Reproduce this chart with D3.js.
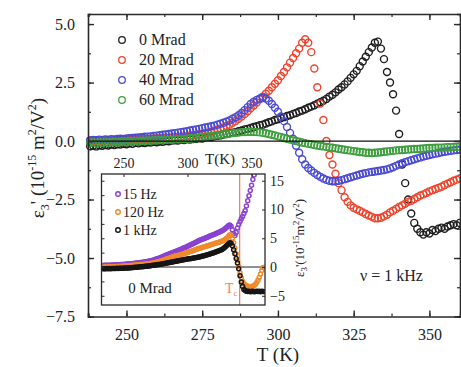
<!DOCTYPE html>
<html><head><meta charset="utf-8">
<script src="https://cdn.jsdelivr.net/npm/d3@7"></script>
<style>
html,body{margin:0;padding:0;background:#fff;}
svg{display:block;}
</style></head>
<body>
<svg id="chart" width="461" height="367" font-family="Liberation Serif"></svg>
<script>
// ---------- main panel data (ε3' in 1e-15 m²/V², T in K) ----------
const temps = [238,239,240,241,242,243,244,245,246,247,248,249,250,251,252,253,254,255,256,257,258,259,260,261,262,263,264,265,266,267,268,269,270,271,272,273,274,275,276,277,278,279,280,281,282,283,284,285,286,287,288,289,290,291,292,293,294,295,296,297,298,299,300,301,302,303,304,305,306,307,308,309,310,311,312,313,314,315,316,317,318,319,320,321,322,323,324,325,326,327,328,329,330,331,332,333,334,335,336,337,338,339,340,341,342,343,344,345,346,347,348,349,350,351,352,353,354,355,356,357,358,359,360];
const mrad0 = [-0.22,-0.2,-0.23,-0.18,-0.2,-0.17,-0.19,-0.15,-0.17,-0.14,
 -0.15,-0.12,-0.14,-0.1,-0.12,-0.08,-0.1,-0.07,-0.09,-0.05,
 -0.06,-0.03,-0.05,-0.02,-0.03,0.0,-0.01,0.02,0.03,0.02,
 0.05,0.04,0.07,0.06,0.09,0.1,0.12,0.11,0.15,0.17,
 0.16,0.2,0.22,0.24,0.28,0.3,0.33,0.36,0.38,0.42,
 0.45,0.5,0.52,0.56,0.6,0.63,0.68,0.7,0.75,0.8,
 0.84,0.9,0.93,0.98,1.02,1.07,1.1,1.16,1.2,1.26,
 1.3,1.36,1.42,1.47,1.53,1.6,1.66,1.72,1.8,1.9,
 1.98,2.08,2.2,2.3,2.42,2.55,2.7,2.85,3.0,3.2,
 3.4,3.6,3.8,4.0,4.2,4.25,3.95,3.5,2.95,2.5,
 2.0,1.3,0.3,-1.0,-1.8,-2.5,-3.1,-3.5,-3.75,-3.9,
 -4.0,-3.9,-3.95,-3.8,-3.85,-3.75,-3.7,-3.75,-3.65,-3.6,
 -3.55,-3.6,-3.5];
const mrad20 = [0.02,0.0,0.03,0.01,0.02,0.04,0.02,0.03,0.05,0.03,
 0.04,0.06,0.05,0.07,0.06,0.08,0.07,0.09,0.1,0.09,
 0.1,0.11,0.12,0.11,0.13,0.14,0.13,0.15,0.16,0.17,
 0.18,0.2,0.21,0.23,0.25,0.27,0.29,0.31,0.34,0.37,
 0.4,0.44,0.48,0.53,0.58,0.64,0.7,0.78,0.86,0.95,
 1.05,1.15,1.27,1.4,1.52,1.65,1.78,1.9,2.02,2.15,
 2.3,2.45,2.6,2.78,2.95,3.15,3.35,3.55,3.75,3.95,
 4.2,4.35,4.2,3.8,3.1,2.3,1.6,0.9,0.0,-0.6,
 -1.0,-1.4,-1.8,-2.1,-2.4,-2.6,-2.75,-2.85,-2.92,-2.98,
 -3.05,-3.12,-3.18,-3.24,-3.3,-3.3,-3.28,-3.22,-3.15,-3.05,
 -2.98,-2.9,-2.82,-2.75,-2.68,-2.6,-2.55,-2.48,-2.4,-2.33,
 -2.28,-2.22,-2.15,-2.1,-2.05,-2.0,-1.95,-1.88,-1.82,-1.76,
 -1.7,-1.65,-1.6];
const mrad40 = [0.03,0.05,0.04,0.06,0.05,0.07,0.06,0.08,0.07,0.09,
 0.1,0.09,0.11,0.12,0.13,0.14,0.15,0.16,0.18,0.19,
 0.2,0.22,0.23,0.25,0.27,0.28,0.3,0.32,0.34,0.36,
 0.38,0.4,0.42,0.45,0.47,0.5,0.52,0.55,0.58,0.6,
 0.63,0.66,0.7,0.74,0.78,0.83,0.88,0.95,1.02,1.1,
 1.2,1.32,1.45,1.58,1.68,1.76,1.82,1.86,1.82,1.72,
 1.58,1.42,1.25,1.05,0.85,0.6,0.35,0.1,-0.2,-0.5,
 -0.78,-1.0,-1.15,-1.26,-1.36,-1.45,-1.53,-1.6,-1.66,-1.7,
 -1.72,-1.72,-1.7,-1.67,-1.63,-1.59,-1.55,-1.51,-1.47,-1.43,
 -1.4,-1.37,-1.34,-1.32,-1.3,-1.28,-1.26,-1.24,-1.21,-1.17,
 -1.12,-1.06,-1.0,-0.95,-0.9,-0.86,-0.82,-0.78,-0.74,-0.7,
 -0.66,-0.63,-0.6,-0.57,-0.54,-0.51,-0.48,-0.46,-0.44,-0.42,
 -0.4,-0.38,-0.36];
const mrad60 = [-0.08,-0.05,-0.1,-0.06,-0.08,-0.04,-0.07,-0.05,-0.03,-0.06,
 -0.04,-0.02,-0.05,-0.01,-0.03,0.0,-0.02,0.01,0.0,0.02,
 0.01,0.03,0.02,0.04,0.03,0.05,0.06,0.05,0.07,0.08,
 0.07,0.09,0.1,0.12,0.11,0.13,0.15,0.16,0.18,0.2,
 0.21,0.23,0.25,0.27,0.29,0.3,0.32,0.34,0.35,0.36,
 0.38,0.38,0.39,0.4,0.39,0.38,0.37,0.35,0.33,0.3,
 0.27,0.24,0.2,0.17,0.13,0.1,0.06,0.03,0.0,-0.03,
 -0.06,-0.09,-0.12,-0.14,-0.17,-0.19,-0.21,-0.23,-0.25,-0.27,
 -0.29,-0.31,-0.33,-0.35,-0.37,-0.39,-0.41,-0.43,-0.45,-0.47,
 -0.48,-0.5,-0.5,-0.51,-0.5,-0.49,-0.48,-0.46,-0.45,-0.43,
 -0.42,-0.4,-0.39,-0.38,-0.37,-0.36,-0.35,-0.34,-0.34,-0.33,
 -0.32,-0.31,-0.3,-0.3,-0.29,-0.28,-0.28,-0.27,-0.26,-0.26,
 -0.25,-0.25,-0.24];
const seriesNames = ["0 Mrad","20 Mrad","40 Mrad","60 Mrad"];
const seriesColors = ["#1e1e1e","#f0432c","#4a4ad2","#3e9e3e"];

const xTicks = [250,275,300,325,350];
const yTicks = [-7.5,-5.0,-2.5,0.0,2.5,5.0];

// ---------- inset data (0 Mrad, three frequencies) ----------
const insetTemps = [234,235,236,237,238,239,240,241,242,243,244,245,246,247,248,249,250,251,252,253,254,255,256,257,258,259,260,261,262,263,264,265,266,267,268,269,270,271,272,273,274,275,276,277,278,279,280,281,282,283,284,285,286,287,288,289,290,291,292,293,294,295,296,297,298,299,300,301,302,303,304,305,306,307,308,309,310,311,312,313,314,315,316,317,318,319,320,321,322,323,324,325,326,327,328,329,330,331,332,333,334,335,336,337,338,339,340,341,342,343,344,345,346,347,348,349,350,351,352,353,354,355,356,357,358,359];
const hz15 = [0.28,0.3,0.29,0.32,0.31,0.33,0.32,0.35,0.34,0.37,
 0.36,0.39,0.38,0.41,0.42,0.44,0.45,0.47,0.49,0.51,
 0.53,0.55,0.57,0.6,0.62,0.65,0.68,0.71,0.74,0.77,
 0.8,0.83,0.86,0.9,0.94,0.98,1.03,1.08,1.14,1.2,
 1.27,1.34,1.42,1.5,1.58,1.67,1.76,1.85,1.94,2.03,
 2.12,2.21,2.3,2.39,2.48,2.57,2.66,2.75,2.84,2.92,
 3.0,3.1,3.2,3.3,3.4,3.5,3.6,3.71,3.82,3.93,
 4.04,4.15,4.26,4.37,4.48,4.59,4.7,4.79,4.88,4.97,
 5.06,5.15,5.24,5.33,5.42,5.51,5.6,5.7,5.8,5.9,
 6.0,6.1,6.2,6.32,6.45,6.6,6.8,7.0,7.2,7.3,
 7.1,6.5,5.8,5.5,6.0,6.8,7.4,7.9,8.4,8.8,
 9.3,9.8,10.6,11.5,12.4,13.3,14.2,15.2,16.0,16.8,
 17.6,18.4,19.2,20.0,20.8,21.6];
const hz120 = [-0.02,0.0,-0.01,0.02,0.0,0.03,0.02,0.04,0.05,0.06,
 0.07,0.08,0.1,0.11,0.13,0.14,0.16,0.18,0.2,0.22,
 0.24,0.26,0.28,0.3,0.32,0.34,0.36,0.38,0.4,0.42,
 0.44,0.46,0.48,0.5,0.52,0.55,0.58,0.62,0.66,0.7,
 0.75,0.8,0.86,0.92,0.98,1.04,1.1,1.18,1.26,1.34,
 1.42,1.5,1.58,1.66,1.74,1.82,1.88,1.94,2.0,2.05,
 2.1,2.17,2.24,2.31,2.38,2.45,2.52,2.6,2.68,2.76,
 2.84,2.92,3.0,3.08,3.16,3.24,3.3,3.37,3.44,3.51,
 3.58,3.65,3.72,3.79,3.86,3.93,4.0,4.07,4.14,4.21,
 4.28,4.36,4.44,4.53,4.63,4.75,4.9,5.1,5.35,5.6,
 5.5,5.0,4.2,3.3,2.3,1.2,0.1,-1.0,-1.9,-2.5,
 -2.9,-3.1,-3.25,-3.35,-3.4,-3.45,-3.4,-3.35,-3.2,-3.0,
 -2.7,-2.3,-1.8,-1.2,-0.6,-0.1];
const khz1 = [-0.3,-0.28,-0.3,-0.27,-0.29,-0.26,-0.28,-0.25,-0.27,-0.24,
 -0.25,-0.23,-0.24,-0.22,-0.22,-0.2,-0.2,-0.18,-0.18,-0.16,
 -0.15,-0.13,-0.12,-0.1,-0.08,-0.06,-0.04,-0.02,0.0,0.03,
 0.05,0.07,0.1,0.12,0.15,0.17,0.2,0.23,0.26,0.29,
 0.32,0.35,0.38,0.42,0.46,0.5,0.54,0.58,0.62,0.66,
 0.7,0.74,0.78,0.82,0.86,0.9,0.94,0.99,1.04,1.09,
 1.14,1.18,1.22,1.26,1.3,1.34,1.38,1.42,1.46,1.5,
 1.54,1.58,1.62,1.66,1.7,1.75,1.8,1.86,1.92,1.98,
 2.04,2.1,2.17,2.24,2.31,2.38,2.46,2.54,2.62,2.7,
 2.78,2.86,2.95,3.05,3.2,3.4,3.6,3.82,4.02,4.2,
 4.15,3.7,3.0,2.3,1.5,0.7,-0.3,-1.5,-2.6,-3.4,
 -3.9,-4.1,-4.2,-4.25,-4.2,-4.3,-4.25,-4.2,-4.3,-4.25,
 -4.2,-4.25,-4.2,-4.3,-4.2,-4.25];
const insetNames = ["15 Hz","120 Hz","1 kHz"];
const insetColors = ["#8a42d2","#f08a2a","#151515"];
const insetXTicks = [250,300,350];
const insetYTicks = [-5,0,5,10,15];
const TC = 340.7;

// ---------- drawing ----------
const FONT = "Liberation Serif";
const TXT = "#222";
const svg = d3.select("#chart");
const axisColor = "#2a2a2a";
function label(parent, xx, yy, size, str, anchor) {
  return parent.append("text").attr("x", xx).attr("y", yy)
    .attr("font-family", FONT).attr("font-size", size).attr("fill", TXT)
    .attr("text-anchor", anchor || "start").text(str);
}

const x = d3.scaleLinear().domain([237.3, 360.1]).range([88, 460]);
const y = d3.scaleLinear().domain([-7.5, 5.43]).range([316.5, 14]);

// data (main)
const mainSeries = [mrad0, mrad20, mrad40, mrad60];
const gData = svg.append("g");
mainSeries.forEach((vals, i) => {
  gData.append("g").selectAll("circle")
    .data(temps.map((t, j) => [t, vals[j]]))
    .join("circle")
    .attr("cx", d => x(d[0])).attr("cy", d => y(d[1]))
    .attr("r", 3.5).attr("fill", "none")
    .attr("stroke", seriesColors[i]).attr("stroke-width", 1.4);
});

// zero line
svg.append("line").attr("x1", x.range()[0]).attr("x2", x.range()[1])
  .attr("y1", y(0)).attr("y2", y(0)).attr("stroke", "#111").attr("stroke-width", 1.3);

// axes (ticks inward on all four sides)
const minorX = d3.range(237.5, 360.1, 12.5).filter(v => v >= 237.3);
const minorY = d3.range(-7.5, 5.5, 1.25);
const axB = d3.axisBottom(x).tickValues(minorX).tickSize(-3).tickFormat("");
const axT = d3.axisTop(x).tickValues(minorX).tickSize(-3).tickFormat("");
const axL = d3.axisLeft(y).tickValues(minorY).tickSize(-3).tickFormat("");
const axR = d3.axisRight(y).tickValues(minorY).tickSize(-3).tickFormat("");
function styleAx(g){ g.selectAll("path").attr("stroke", axisColor).attr("stroke-width", 1.6);
  g.selectAll("line").attr("stroke", axisColor).attr("stroke-width", 1.2); }
svg.append("g").attr("transform", `translate(0,${y.range()[0]})`).call(axB).call(styleAx);
svg.append("g").attr("transform", `translate(0,${y.range()[1]})`).call(axT).call(styleAx);
svg.append("g").attr("transform", `translate(${x.range()[0]},0)`).call(axL).call(styleAx);
svg.append("g").attr("transform", `translate(${x.range()[1]},0)`).call(axR).call(styleAx);
// major ticks with labels
const majB = d3.axisBottom(x).tickValues(xTicks).tickSize(-6).tickPadding(12).tickFormat(d3.format("d"));
const majT = d3.axisTop(x).tickValues(xTicks).tickSize(-6).tickFormat("");
const majL = d3.axisLeft(y).tickValues(yTicks).tickSize(-6).tickPadding(13).tickFormat(d3.format(".1f"));
const majR = d3.axisRight(y).tickValues(yTicks).tickSize(-6).tickFormat("");
function styleMaj(g){ g.select("path").remove();
  g.attr("font-family", FONT);
  g.selectAll("line").attr("stroke", axisColor).attr("stroke-width", 1.4);
  g.selectAll("text").attr("font-family", FONT).attr("font-size", 16).attr("fill", TXT); }
svg.append("g").attr("transform", `translate(0,${y.range()[0]})`).call(majB).call(styleMaj);
svg.append("g").attr("transform", `translate(0,${y.range()[1]})`).call(majT).call(styleMaj);
svg.append("g").attr("transform", `translate(${x.range()[0]},0)`).call(majL).call(styleMaj);
svg.append("g").attr("transform", `translate(${x.range()[1]},0)`).call(majR).call(styleMaj);

// axis titles
label(svg, 278, 361, 19, "T (K)", "middle");
const yl = svg.append("text").attr("transform", "translate(44,158) rotate(-90)")
  .attr("text-anchor", "middle").attr("font-family", FONT).attr("font-size", 19).attr("fill", TXT);
yl.append("tspan").text("ε");
yl.append("tspan").attr("font-size", 12).attr("dy", 5).text("3");
yl.append("tspan").attr("dy", -5).text("' (10");
yl.append("tspan").attr("font-size", 12).attr("dy", -8).text("-15");
yl.append("tspan").attr("dy", 8).text(" m");
yl.append("tspan").attr("font-size", 12).attr("dy", -8).text("2");
yl.append("tspan").attr("dy", 8).text("/V");
yl.append("tspan").attr("font-size", 12).attr("dy", -8).text("2");
yl.append("tspan").attr("dy", 8).text(")");

// legend
const leg = svg.append("g");
seriesNames.forEach((n, i) => {
  const yy = 40 + i * 20;
  leg.append("circle").attr("cx", 122).attr("cy", yy).attr("r", 3.3)
    .attr("fill", "none").attr("stroke", seriesColors[i]).attr("stroke-width", 1.3);
  label(leg, 139, yy + 5, 16, n);
});
label(svg, 360, 281, 16, "ν = 1 kHz");

// ---------- inset ----------
const ix = d3.scaleLinear().domain([232.8, 360.5]).range([101.5, 265]);
const iy = d3.scaleLinear().domain([-6.6, 16.17]).range([305, 174]);
const inset = svg.append("g");
inset.append("rect").attr("x", 101.5).attr("y", 174).attr("width", 163.5).attr("height", 131)
  .attr("fill", "#fff");
svg.append("clipPath").attr("id", "iclip").append("rect")
  .attr("x", 101.5).attr("y", 174).attr("width", 163.5).attr("height", 131);
const ig = inset.append("g").attr("clip-path", "url(#iclip)");
ig.append("line").attr("x1", ix(TC)).attr("x2", ix(TC)).attr("y1", 174).attr("y2", 305)
  .attr("stroke", "#f2806e").attr("stroke-width", 1.3);
ig.append("line").attr("x1", 101.5).attr("x2", 265).attr("y1", iy(0)).attr("y2", iy(0))
  .attr("stroke", "#222").attr("stroke-width", 1);
[hz15, hz120, khz1].forEach((vals, i) => {
  ig.append("g").selectAll("circle")
    .data(insetTemps.map((t, j) => [t, vals[j]]))
    .join("circle")
    .attr("cx", d => ix(d[0])).attr("cy", d => iy(d[1]))
    .attr("r", 2).attr("fill", "none")
    .attr("stroke", insetColors[i]).attr("stroke-width", 1.5);
});
inset.append("rect").attr("x", 101.5).attr("y", 174).attr("width", 163.5).attr("height", 131)
  .attr("fill", "none").attr("stroke", axisColor).attr("stroke-width", 1.3);
// inset axes
const iT = d3.axisTop(ix).tickValues(insetXTicks).tickSize(-3).tickPadding(6).tickFormat(d3.format("d"));
const iR = d3.axisRight(iy).tickValues(insetYTicks).tickSize(-3).tickPadding(5).tickFormat(d3.format("d"));
const iL = d3.axisLeft(iy).tickValues(d3.range(-5, 16, 2.5)).tickSize(-3).tickFormat("");
function styleI(g){ g.select("path").remove();
  g.attr("font-family", FONT);
  g.selectAll("line").attr("stroke", axisColor).attr("stroke-width", 1);
  g.selectAll("text").attr("font-family", FONT).attr("font-size", 14).attr("fill", TXT); }
inset.append("g").attr("transform", "translate(0,174)").call(iT).call(styleI);
inset.append("g").attr("transform", "translate(265,0)").call(iR).call(styleI);
inset.append("g").attr("transform", "translate(101.5,0)").call(iL).call(styleI);
label(inset, 220, 164, 15, "T(K)", "middle");
const iyl = inset.append("text").attr("transform", "translate(304,238) rotate(-90)")
  .attr("text-anchor", "middle").attr("font-family", FONT).attr("font-size", 13).attr("fill", TXT);
iyl.append("tspan").text("ε");
iyl.append("tspan").attr("font-size", 9).attr("dy", 3).text("3");
iyl.append("tspan").attr("dy", -3).text("'(10");
iyl.append("tspan").attr("font-size", 9).attr("dy", -5).text("-15");
iyl.append("tspan").attr("dy", 5).text("m");
iyl.append("tspan").attr("font-size", 9).attr("dy", -5).text("2");
iyl.append("tspan").attr("dy", 5).text("/V");
iyl.append("tspan").attr("font-size", 9).attr("dy", -5).text("2");
iyl.append("tspan").attr("dy", 5).text(")");
insetNames.forEach((n, i) => {
  const yy = 194 + i * 18;
  inset.append("circle").attr("cx", 118).attr("cy", yy).attr("r", 2.3)
    .attr("fill", "none").attr("stroke", insetColors[i]).attr("stroke-width", 1.4);
  label(inset, 123, yy + 4.5, 14, n);
});
label(inset, 150, 293, 15, "0 Mrad", "middle");
const tcl = inset.append("text").attr("x", 225).attr("y", 293)
  .attr("font-family", FONT).attr("font-size", 14).attr("fill", "#f2806e");
tcl.append("tspan").text("T");
tcl.append("tspan").attr("font-size", 9).attr("dy", 3).text("c");
</script>
</body></html>
